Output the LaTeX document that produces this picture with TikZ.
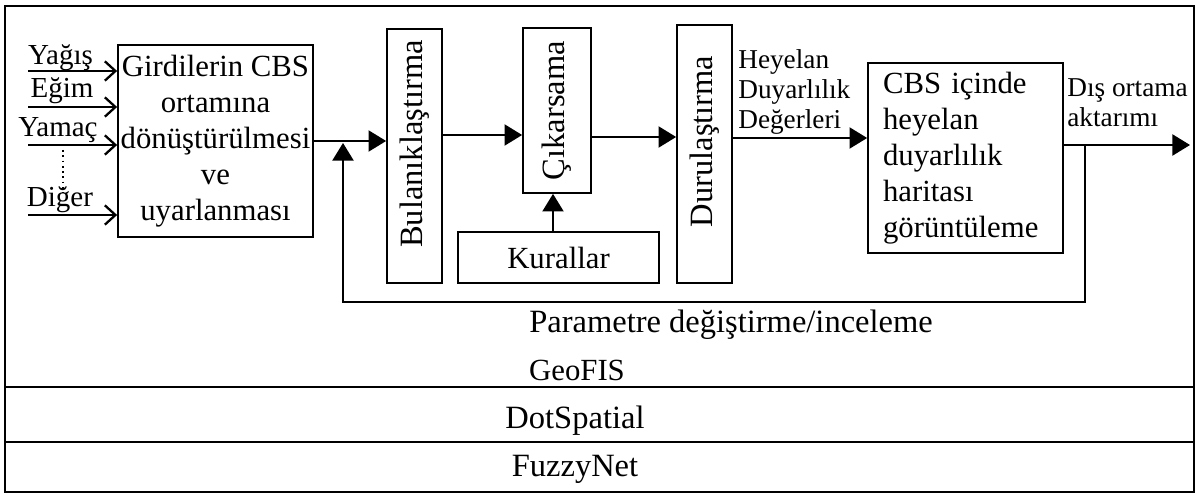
\documentclass[tikz,border=0pt]{standalone}
\usepackage{fontspec}
\setmainfont{Liberation Serif}
\usetikzlibrary{arrows.meta,positioning,calc}

\begin{document}
\begin{tikzpicture}[
    kutu/.style={draw, line width=1pt, align=center, inner sep=0pt},
    ok/.style={-{Triangle[length=10pt,width=12pt]}, line width=1pt},
    girdiok/.style={-{Straight Barb[length=6pt,width=11pt,line width=1.3pt]}, line width=1.3pt},
    buyuk/.style={font=\fontsize{17.5}{20.5}\selectfont},
    dikey/.style={font=\fontsize{18.5}{20}\selectfont},
    orta/.style={font=\fontsize{16.5}{18}\selectfont},
    kucuk/.style={font=\fontsize{15.5}{16.8}\selectfont},
    katman/.style={draw, line width=1pt}
]
    \useasboundingbox (0,0) rectangle (24,-9.88);

    % Layers (GeoFIS / DotSpatial / FuzzyNet)
    \draw[katman] (0.1,-0.12) rectangle (23.88,-7.74);
    \draw[katman] (0.1,-7.74) rectangle (23.88,-8.84);
    \draw[katman] (0.1,-8.84) rectangle (23.88,-9.84);
    \node[buyuk] (geofis) at (11.54,-7.4) {GeoFIS};
    \node[dikey] (dotspatial) at (11.5,-8.42) {DotSpatial};
    \node[dikey] (fuzzynet) at (11.5,-9.38) {FuzzyNet};

    % Main blocks
    \node[kutu, buyuk, minimum width=3.9cm, minimum height=3.84cm] (girdi) at (4.31,-2.82)
        {Girdilerin CBS\\ortamına\\dönüştürülmesi\\ve\\uyarlanması};
    \node[kutu, dikey, minimum width=1.1cm, minimum height=5.08cm] (bulanik) at (8.29,-3.12)
        {\rotatebox{90}{\hspace{0.48cm}Bulanıklaştırma}};
    \node[kutu, dikey, minimum width=1.36cm, minimum height=3.3cm] (cikarsama) at (11.14,-2.21)
        {\rotatebox{90}{Çıkarsama}};
    \node[kutu, buyuk, minimum width=4.02cm, minimum height=1.02cm] (kurallar) at (11.17,-5.15)
        {Kurallar};
    \node[kutu, dikey, minimum width=1.1cm, minimum height=5.16cm] (durulastirma) at (14.09,-3.08)
        {\rotatebox{90}{\hspace{0.5cm}Durulaştırma}};
    \node[kutu, buyuk, align=left, text width=3.3cm, inner xsep=0.3cm, minimum height=3.8cm] (cbs) at (19.31,-3.16)
        {CBS içinde\\heyelan\\duyarlılık\\haritası\\görüntüleme};

    % Inputs
    \coordinate (g1) at (0.56,-1.42);
    \coordinate (g2) at (0.56,-2.14);
    \coordinate (g3) at (0.56,-2.9);
    \coordinate (g4) at (0.56,-4.3);
    \draw[girdiok] (g1) -- (g1 -| girdi.west);
    \draw[girdiok] (g2) -- (g2 -| girdi.west);
    \draw[girdiok] (g3) -- (g3 -| girdi.west);
    \draw[girdiok] (g4) -- (g4 -| girdi.west);
    \node[orta, anchor=base, inner sep=0pt] (yagis) at (1.21,-1.3) {Yağış};
    \node[orta, anchor=base, inner sep=0pt] (egim) at (1.24,-1.96) {Eğim};
    \node[orta, anchor=base, inner sep=0pt] (yamac) at (1.16,-2.74) {Yamaç};
    \node[orta, anchor=base, inner sep=0pt] (diger) at (1.2,-4.14) {Diğer};
    \draw[line width=1pt, dotted] (1.26,-3.0) -- (1.26,-3.86);

    % Flow
    \draw[ok] (girdi.east) -- (girdi.east -| bulanik.west);
    \draw[ok] (bulanik.east |- 0,-2.7) -- (cikarsama.west |- 0,-2.7);
    \draw[ok] (cikarsama.east |- 0,-2.74) -- (durulastirma.west |- 0,-2.74);
    \draw[ok] (kurallar.north -| 11.06,0) -- (cikarsama.south -| 11.06,0);
    \draw[ok] (durulastirma.east |- 0,-2.76) -- (cbs.west |- 0,-2.76);
    \coordinate (cikis) at (23.8,-2.9);
    \draw[ok] (cbs.east |- cikis) -- (cikis);

    % Feedback loop
    \coordinate (ayrim) at (21.7,-2.9);
    \coordinate (geri1) at (21.7,-6.04);
    \coordinate (geri2) at (6.86,-6.04);
    \coordinate (birlesim) at (6.86,-2.86);
    \draw[ok] (ayrim) -- (geri1) -- (geri2) -- (birlesim);

    % Labels
    \node[kucuk, align=left, anchor=west, inner sep=0pt] (heyelan) at (14.76,-1.84)
        {Heyelan\\Duyarlılık\\Değerleri};
    \node[kucuk, align=left, anchor=west, inner sep=0pt] (aktarim) at (21.34,-2.05)
        {Dış ortama\\aktarımı};
    \node[dikey] (parametre) at (14.62,-6.5) {Parametre değiştirme/inceleme};
\end{tikzpicture}
\end{document}
